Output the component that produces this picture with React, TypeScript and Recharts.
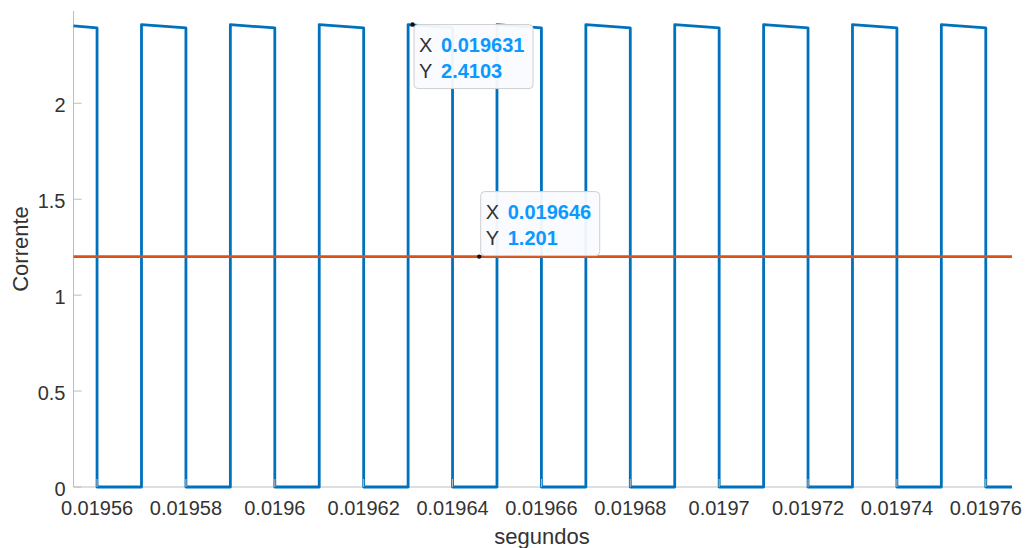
import React from "react";
import { LineChart, Line, XAxis, YAxis, ReferenceDot } from "recharts";

// Square-wave current (blue) and its mean (orange).
const dominioX: [number, number] = [0.0195547, 0.0197659];
const dominioY: [number, number] = [0, 2.481];

const ticksX = [0.01956, 0.01958, 0.0196, 0.01962, 0.01964, 0.01966, 0.01968, 0.0197, 0.01972, 0.01974, 0.01976];
const rotulosX = ["0.01956", "0.01958", "0.0196", "0.01962", "0.01964", "0.01966", "0.01968", "0.0197", "0.01972", "0.01974", "0.01976"];
const ticksY = [0, 0.5, 1, 1.5, 2];
const rotulosY = ["0", "0.5", "1", "1.5", "2"];

// switching instants
const subidas = [0.01957, 0.01959, 0.01961, 0.01963, 0.01965, 0.01967, 0.01969, 0.01971, 0.01973, 0.01975];
const descidas = [0.01956, 0.01958, 0.0196, 0.01962, 0.01964, 0.01966, 0.01968, 0.0197, 0.01972, 0.01974, 0.01976];
const valorInicial = 2.404; // at left edge of axes
const picoInicio = 2.4103;
const picoFim = 2.3925;
const media = 1.201;

const dicas = [
  { x: 0.019631, y: 2.4103, lado: "baixo" },
  { x: 0.019646, y: 1.201, lado: "cima" },
];

const onda: { t: number; y: number }[] = [{ t: dominioX[0], y: valorInicial }];
descidas.forEach((d, i) => {
  onda.push({ t: d, y: picoFim });
  onda.push({ t: d, y: 0 });
  if (i < subidas.length) {
    onda.push({ t: subidas[i], y: 0 });
    onda.push({ t: subidas[i], y: picoInicio });
  }
});
onda.push({ t: dominioX[1], y: 0 });

const linhaMedia = [
  { t: dominioX[0], y: media },
  { t: dominioX[1], y: media },
];

const cinza = "#bdbdbd";
const texto = "#333333";
const fonte = "'Liberation Sans', Arial, Helvetica, sans-serif";

const rotuloDe = (v: number, ticks: number[], rotulos: string[]) => {
  let k = 0;
  ticks.forEach((t, i) => {
    if (Math.abs(t - v) < Math.abs(ticks[k] - v)) k = i;
  });
  return rotulos[k];
};

const TickBaixo = ({ x, y, payload }: any) => (
  <g>
    <line x1={x} y1={y} x2={x} y2={y - 8} stroke={cinza} />
    <text x={x} y={y + 28} textAnchor="middle" fontSize={20} fill={texto} fontFamily={fonte}>
      {rotuloDe(payload.value, ticksX, rotulosX)}
    </text>
  </g>
);
const TickTopo = ({ x, y }: any) => <line x1={x} y1={y} x2={x} y2={y + 8} stroke={cinza} />;
const TickEsq = ({ x, y, payload }: any) => (
  <g>
    <line x1={x} y1={y} x2={x + 8} y2={y} stroke={cinza} />
    <text x={x - 8} y={y + 9} textAnchor="end" fontSize={20} fill={texto} fontFamily={fonte}>
      {rotuloDe(payload.value, ticksY, rotulosY)}
    </text>
  </g>
);
const TickDir = ({ x, y }: any) => <line x1={x} y1={y} x2={x - 8} y2={y} stroke={cinza} />;

const Dica = ({ cx, cy, vx, vy, lado }: any) => {
  const w = 119;
  const h = 64;
  const left = cx + 1.5;
  const top = lado === "baixo" ? cy : cy - h - 1;
  return (
    <g fontFamily={fonte} fontSize={20}>
      <rect x={left} y={top} width={w} height={h} rx={4} fill="#fafbfe" fillOpacity={0.95} stroke="#cfcfcf" />
      <text x={left + 5} y={top + 27} fill={texto}>X</text>
      <text x={left + 27} y={top + 27} fill="#0a99ff" fontWeight="bold">{vx}</text>
      <text x={left + 5} y={top + 53} fill={texto}>Y</text>
      <text x={left + 27} y={top + 53} fill="#0a99ff" fontWeight="bold">{vy}</text>
      <circle cx={cx} cy={cy} r={2.2} fill="#111" />
    </g>
  );
};

export default function App() {
  return (
    <div style={{ position: "absolute", left: 0, top: 0, background: "#fff" }}>
      <LineChart width={1026} height={548} margin={{ top: 11, right: 14, bottom: 0, left: 0 }}>
        <XAxis
          dataKey="t"
          type="number"
          domain={dominioX}
          ticks={ticksX}
          interval={0}
          height={61}
          tickSize={0}
          tickMargin={0}
          tickLine={false}
          axisLine={{ stroke: cinza }}
          tick={<TickBaixo />}
          label={{
            content: () => (
              <text x={542} y={544} textAnchor="middle" fontSize={22} fill={texto} fontFamily={fonte}>
                segundos
              </text>
            ),
          }}
        />
        <XAxis
          xAxisId="topo"
          orientation="top"
          dataKey="t"
          type="number"
          domain={dominioX}
          ticks={ticksX}
          interval={0}
          height={0}
          tickSize={0}
          tickLine={false}
          axisLine={{ stroke: cinza }}
          tick={<TickTopo />}
        />
        <YAxis
          type="number"
          domain={dominioY}
          ticks={ticksY}
          interval={0}
          width={73.5}
          tickSize={0}
          tickMargin={0}
          tickLine={false}
          axisLine={{ stroke: cinza }}
          tick={<TickEsq />}
          label={{
            content: () => (
              <text
                transform="translate(28,249) rotate(-90)"
                textAnchor="middle"
                fontSize={22}
                fill={texto}
                fontFamily={fonte}
              >
                Corrente
              </text>
            ),
          }}
        />
        <YAxis
          yAxisId="dir"
          orientation="right"
          type="number"
          domain={dominioY}
          ticks={ticksY}
          interval={0}
          width={0}
          tickSize={0}
          tickLine={false}
          axisLine={{ stroke: cinza }}
          tick={<TickDir />}
        />
        <Line
          data={onda}
          dataKey="y"
          type="linear"
          stroke="#0072BD"
          strokeWidth={2.8}
          strokeLinejoin="round"
          dot={false}
          activeDot={false}
          isAnimationActive={false}
          zIndex={600}
        />
        <Line
          data={linhaMedia}
          dataKey="y"
          type="linear"
          stroke="#D95319"
          strokeWidth={2.8}
          dot={false}
          activeDot={false}
          isAnimationActive={false}
          zIndex={650}
        />
        {dicas.map((d, i) => (
          <ReferenceDot
            key={i}
            x={d.x}
            y={d.y}
            ifOverflow="visible"
            zIndex={800}
            shape={(p: any) => <Dica cx={p.cx} cy={p.cy} vx={String(d.x)} vy={String(d.y)} lado={d.lado} />}
          />
        ))}
      </LineChart>
    </div>
  );
}
